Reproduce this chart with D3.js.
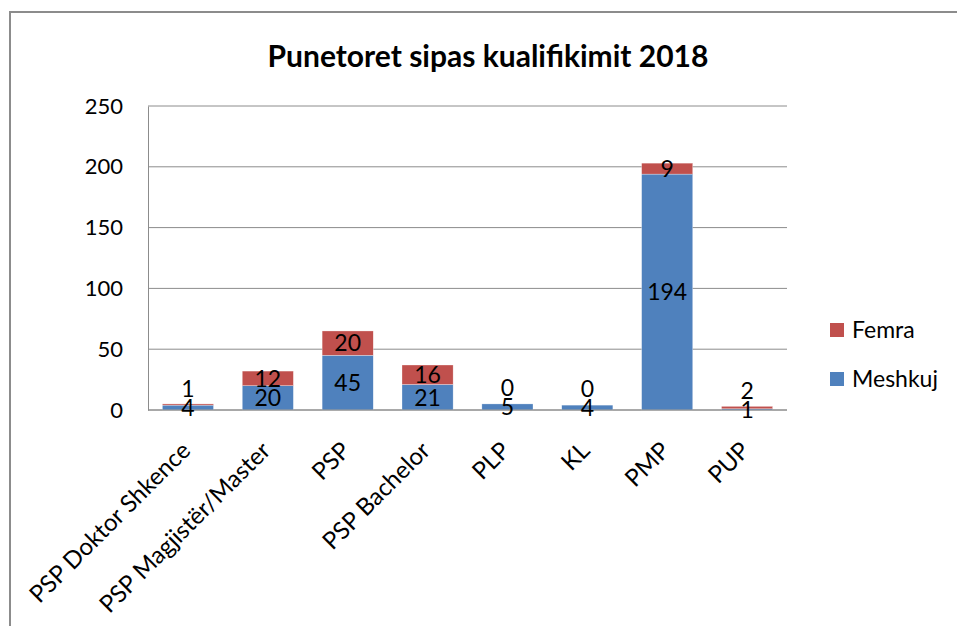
<!DOCTYPE html>
<html>
<head>
<meta charset="utf-8">
<script src="https://cdn.jsdelivr.net/npm/d3@7"></script>
<style>
  html, body { margin: 0; padding: 0; background: #fff; }
  svg { display: block; }
  text { font-family: Lato, "Open Sans", sans-serif; }
</style>
</head>
<body>
<svg id="chart" width="957" height="626"></svg>
<script>
// Workers by qualification, 2018
const categories = ["PSP Doktor Shkence", "PSP Magjistër/Master", "PSP", "PSP Bachelor", "PLP", "KL", "PMP", "PUP"];
const meshkuj = [4, 20, 45, 21, 5, 4, 194, 1];
const femra = [1, 12, 20, 16, 0, 0, 9, 2];
const yTicks = [0, 50, 100, 150, 200, 250];
const seriesNames = ["Meshkuj", "Femra"];
const colors = { Meshkuj: "#4F81BD", Femra: "#C0504D" };

const svg = d3.select("#chart");

// outer frame
svg.append("path")
  .attr("d", "M10,626 L10,12 L957,12")
  .attr("fill", "none")
  .attr("stroke", "#8c8c8c")
  .attr("stroke-width", 2);

svg.append("text")
  .attr("x", 488).attr("y", 67)
  .attr("text-anchor", "middle")
  .attr("font-size", 30).attr("font-weight", "bold")
  .attr("fill", "#000")
  .text("Punetoret sipas kualifikimit 2018");

const plot = { left: 148, right: 787, top: 106, bottom: 410 };

const x = d3.scaleBand().domain(categories)
  .range([plot.left, plot.right]).paddingInner(0.36).paddingOuter(0.18);
const y = d3.scaleLinear().domain([0, 250]).range([plot.bottom, plot.top]);

// gridlines
svg.append("g").selectAll("line").data(yTicks).join("line")
  .attr("x1", plot.left).attr("x2", plot.right)
  .attr("y1", d => y(d)).attr("y2", d => y(d))
  .attr("stroke", "#8c8c8c").attr("stroke-width", 1);

// y axis
const yAxis = svg.append("g").attr("transform", `translate(${plot.left},0)`)
  .call(d3.axisLeft(y).tickValues(yTicks).tickSize(0).tickPadding(25));
yAxis.select(".domain").attr("stroke", "#8c8c8c");
yAxis.selectAll("text").attr("font-size", 22).attr("fill", "#000")
  .attr("font-family", "Lato, 'Open Sans', sans-serif");

// stacked bars
const rows = categories.map((c, i) => ({ cat: c, Meshkuj: meshkuj[i], Femra: femra[i] }));
const stack = d3.stack().keys(seriesNames)(rows);

const layers = svg.append("g").selectAll("g").data(stack).join("g")
  .attr("fill", d => colors[d.key]);
layers.selectAll("rect").data(d => d).join("rect")
  .attr("x", d => x(d.data.cat))
  .attr("width", x.bandwidth())
  .attr("y", d => y(d[1]))
  .attr("height", d => y(d[0]) - y(d[1]))
  .attr("stroke", "#fff").attr("stroke-width", 0.5).attr("stroke-opacity", 0.6);

// x axis line
svg.append("line")
  .attr("x1", plot.left).attr("x2", plot.right)
  .attr("y1", plot.bottom).attr("y2", plot.bottom)
  .attr("stroke", "#8c8c8c");

// value labels centred in each segment; an upper label is lifted clear of the one below
const labelGap = 19;
const labelPos = rows.map(() => ({}));
stack.forEach((layer, li) => {
  layer.forEach((d, i) => {
    let cy = (y(d[0]) + y(d[1])) / 2;
    if (li > 0) cy = Math.min(cy, labelPos[i][stack[li - 1].key] - labelGap);
    labelPos[i][layer.key] = cy;
  });
});
const labels = svg.append("g");
stack.forEach(layer => {
  labels.selectAll(null).data(layer).join("text")
    .attr("x", d => x(d.data.cat) + x.bandwidth() / 2)
    .attr("y", (d, i) => labelPos[i][layer.key])
    .attr("dy", "0.36em")
    .attr("text-anchor", "middle")
    .attr("font-size", 23).attr("fill", "#000")
    .text(d => d.data[layer.key]);
});

// category labels, rotated
svg.append("g").selectAll("text").data(categories).join("text")
  .attr("transform", d => `translate(${x(d) + x.bandwidth() / 2 + 4},${plot.bottom + 42}) rotate(-45)`)
  .attr("text-anchor", "end")
  .attr("font-size", 24).attr("fill", "#000")
  .text(d => d);

// legend
const legendItems = ["Femra", "Meshkuj"];
const legend = svg.append("g").selectAll("g").data(legendItems).join("g")
  .attr("transform", (d, i) => `translate(830,${330 + i * 49})`);
legend.append("rect").attr("x", 0).attr("y", -7).attr("width", 14).attr("height", 14)
  .attr("fill", d => colors[d]);
legend.append("text").attr("x", 22).attr("y", 0).attr("dy", "0.36em")
  .attr("font-size", 23).attr("fill", "#000").text(d => d);
</script>
</body>
</html>
